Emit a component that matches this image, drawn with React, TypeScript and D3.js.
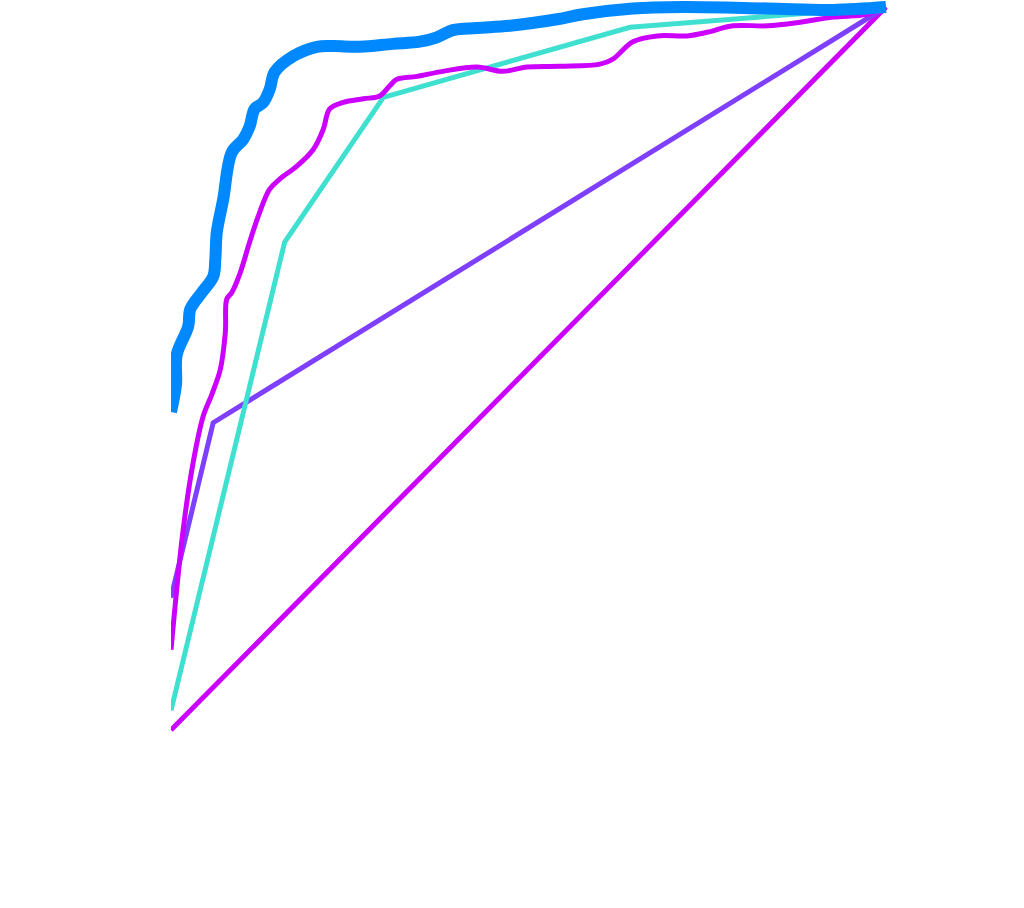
import React from "react";
import * as d3 from "d3";

type Pt = [number, number];

// ROC curves: [false positive rate, true positive rate]
const blueCurve: Pt[] = [
    [0, 0.44], [0.007, 0.478], [0.008, 0.519], [0.024, 0.558], [0.027, 0.582],
    [0.043, 0.605], [0.059, 0.627], [0.062, 0.651], [0.064, 0.688], [0.073, 0.734],
    [0.085, 0.799], [0.101, 0.817], [0.11, 0.835], [0.117, 0.859], [0.129, 0.868],
    [0.138, 0.886], [0.145, 0.91], [0.171, 0.932], [0.204, 0.945], [0.227, 0.946],
    [0.264, 0.945], [0.31, 0.949], [0.348, 0.952], [0.372, 0.958], [0.394, 0.968],
    [0.428, 0.971], [0.474, 0.974], [0.54, 0.983], [0.576, 0.99], [0.646, 0.998],
    [0.716, 1.0], [0.834, 0.998], [0.926, 0.996], [1, 1],
];

const magentaCurve: Pt[] = [
    [0, 0.111], [0.017, 0.277], [0.031, 0.37], [0.045, 0.434], [0.057, 0.464],
    [0.069, 0.499], [0.076, 0.55], [0.078, 0.596], [0.085, 0.605], [0.097, 0.633],
    [0.11, 0.675], [0.124, 0.716], [0.138, 0.748], [0.152, 0.762], [0.176, 0.78],
    [0.199, 0.803], [0.213, 0.831], [0.222, 0.859], [0.241, 0.868], [0.269, 0.873],
    [0.292, 0.877], [0.306, 0.891], [0.316, 0.9], [0.344, 0.904], [0.38, 0.911],
    [0.428, 0.917], [0.464, 0.911], [0.498, 0.917], [0.544, 0.918], [0.6, 0.921],
    [0.618, 0.928], [0.646, 0.952], [0.68, 0.96], [0.722, 0.96], [0.75, 0.965],
    [0.786, 0.974], [0.834, 0.974], [0.88, 0.979], [0.926, 0.986], [0.973, 0.99],
    [1, 1],
];

const tealCurve: Pt[] = [[0, 0.027], [0.159, 0.675], [0.297, 0.875], [0.642, 0.972], [1, 1]];

const violetCurve: Pt[] = [[0, 0.183], [0.059, 0.425], [1, 1]];

const chanceLine: Pt[] = [[0, 0], [1, 1]];

const width = 1024;
const height = 908;
const plot = {left: 171, right: 886, top: 7, bottom: 730};

const xScale = d3.scaleLinear().domain([0, 1]).range([plot.left, plot.right]);
const yScale = d3.scaleLinear().domain([0, 1]).range([plot.bottom, plot.top]);

const smooth = d3.line<Pt>()
    .x(d => xScale(d[0]))
    .y(d => yScale(d[1]))
    .curve(d3.curveCatmullRom);

const straight = d3.line<Pt>()
    .x(d => xScale(d[0]))
    .y(d => yScale(d[1]));

export default function App() {
    return (
        <svg
            width={width}
            height={height}
            style={{position: "absolute", left: 0, top: 0, background: "#fff"}}
        >
            <defs>
                <clipPath id="plotClip">
                    <rect x={plot.left} y={-20} width={width - plot.left} height={plot.bottom + 40}/>
                </clipPath>
            </defs>
            <g clipPath="url(#plotClip)" fill="none">
                <path d={straight(chanceLine) ?? ""} stroke="#cc00ff" strokeWidth={5}/>
                <path d={straight(violetCurve) ?? ""} stroke="#7f3fff" strokeWidth={5}/>
                <path d={straight(tealCurve) ?? ""} stroke="#40e0d0" strokeWidth={5}/>
                <path d={smooth(magentaCurve) ?? ""} stroke="#cc00ff" strokeWidth={5}/>
                <path d={smooth(blueCurve) ?? ""} stroke="#0088ff" strokeWidth={12}/>
            </g>
        </svg>
    );
}
